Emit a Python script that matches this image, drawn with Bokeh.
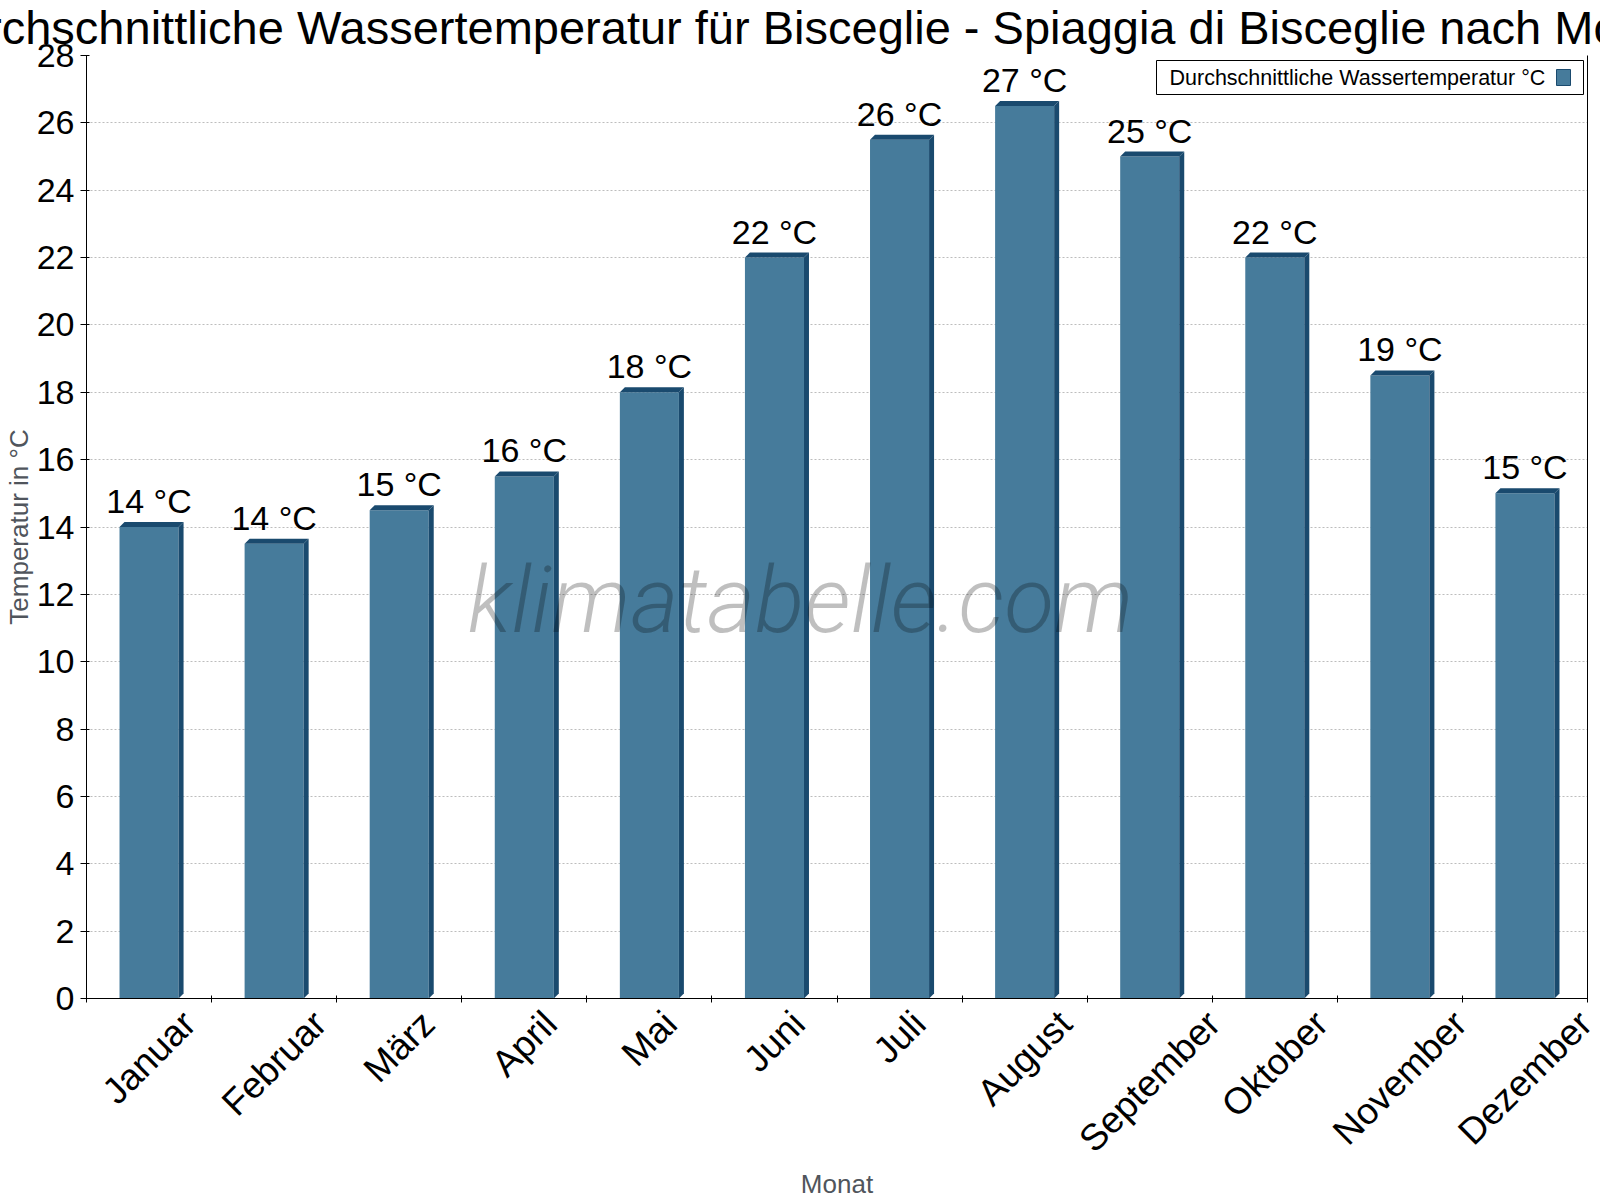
import math
from bokeh.plotting import figure
from bokeh.models import (Range1d, FixedTicker, LinearAxis, Label, LabelSet,
                          ColumnDataSource, BoxAnnotation)
from bokeh.core.properties import value
from bokeh.embed import file_html
from bokeh.resources import INLINE

# ---------------- data ----------------
months = ["Januar", "Februar", "März", "April", "Mai", "Juni", "Juli",
          "August", "September", "Oktober", "November", "Dezember"]
water_temp = [14.0, 13.5, 14.5, 15.5, 18.0, 22.0, 25.5, 26.5, 25.0, 22.0, 18.5, 15.0]
y_ticks = list(range(0, 29, 2))

title_text = "Durchschnittliche Wassertemperatur für Bisceglie - Spiaggia di Bisceglie nach Monat"
series_name = "Durchschnittliche Wassertemperatur °C"
x_title = "Monat"
y_title = "Temperatur in °C"
watermark_text = "klimatabelle.com"

# ---------------- style ----------------
FONT = "Liberation Sans"
FRONT = "#467b9b"
DARK = "#1a4a6e"
AXIS_GREY = "#50555c"
GRID = "#bdbdbd"

N = len(months)
Y_MAX = 28
FRAME_W, FRAME_H = 1501, 943
B_L, B_T, B_R, B_B = 84, 53, 15, 204
XPX = FRAME_W / N          # pixels per x unit
YPX = FRAME_H / Y_MAX      # pixels per y unit


def dx(px):   # canvas pixel -> data x
    return (px - B_L) / XPX


def dy(py):   # canvas pixel -> data y
    return Y_MAX - (py - B_T) / YPX


p = figure(frame_width=FRAME_W, frame_height=FRAME_H,
           x_range=Range1d(0, N), y_range=Range1d(0, Y_MAX),
           output_backend="svg", toolbar_location=None,
           min_border_left=B_L, min_border_top=B_T,
           min_border_right=B_R, min_border_bottom=B_B,
           background_fill_color="white", border_fill_color="white")
p.outline_line_color = None

# ---------------- title (centred on the whole canvas, overflowing both sides) ----------------
TITLE_SIZE = 47
TITLE_W = 1747            # approximate rendered width of the title text
TITLE_CENTER = 797
p.title.text = title_text
p.title.text_font = FONT
p.title.text_font_size = f"{TITLE_SIZE}px"
p.title.text_font_style = "normal"
p.title.text_color = "black"
p.title.align = "left"
p.title.vertical_align = "top"
p.title.standoff = 0
p.title.offset = (TITLE_CENTER - TITLE_W / 2) - B_L

# ---------------- x axis: boundary ticks + rotated labels centred on categories ----------------
XL_SIZE = 37
W = {"J": 500, "a": 556, "n": 556, "u": 556, "r": 333, "F": 611, "e": 556, "b": 556,
     "M": 833, "ä": 556, "z": 500, "A": 667, "p": 556, "i": 222, "l": 222, "N": 722,
     "o": 556, "v": 500, "m": 833, "D": 722, "S": 667, "t": 278, "O": 778, "k": 500,
     "g": 556, "s": 500, "c": 500, "h": 556, "f": 278, "d": 556, "ü": 556}
cx = [i + 0.5 for i in range(N)]
label_pos = []
for c, m in zip(cx, months):
    L = sum(W.get(ch, 556) for ch in m) / 1000 * XL_SIZE
    label_pos.append(round(c + 0.3535 * L / XPX, 6))

p.xaxis.ticker = FixedTicker(ticks=label_pos, minor_ticks=list(range(0, N + 1)))
p.xaxis.major_label_overrides = {pos: m for pos, m in zip(label_pos, months)}
p.xaxis.major_label_orientation = math.pi / 4
p.xaxis.major_label_text_font = FONT
p.xaxis.major_label_text_font_size = f"{XL_SIZE}px"
p.xaxis.major_label_text_color = "black"
p.xaxis.major_label_standoff = 15
p.xaxis.major_tick_in = 0
p.xaxis.major_tick_out = 0
p.xaxis.major_tick_line_color = None
p.xaxis.minor_tick_in = 3
p.xaxis.minor_tick_out = 4
p.xaxis.minor_tick_line_color = "black"
p.xaxis.axis_line_color = "black"
p.xaxis.axis_label = x_title
p.xaxis.axis_label_text_font = FONT
p.xaxis.axis_label_text_font_size = "26px"
p.xaxis.axis_label_text_font_style = "normal"
p.xaxis.axis_label_text_color = AXIS_GREY
p.xaxis.axis_label_standoff = -8

# ---------------- y axis ----------------
p.yaxis.ticker = FixedTicker(ticks=y_ticks)
p.yaxis.major_label_text_font = FONT
p.yaxis.major_label_text_font_size = "34px"
p.yaxis.major_label_text_color = "black"
p.yaxis.major_label_standoff = 6
p.yaxis.major_tick_in = 3
p.yaxis.major_tick_out = 6
p.yaxis.minor_tick_line_color = None
p.yaxis.axis_line_color = "black"
p.yaxis.major_tick_line_color = "black"
p.yaxis.axis_label = y_title
p.yaxis.axis_label_text_font = FONT
p.yaxis.axis_label_text_font_size = "26px"
p.yaxis.axis_label_text_font_style = "normal"
p.yaxis.axis_label_text_color = AXIS_GREY
p.yaxis.axis_label_standoff = 0

right_axis = LinearAxis(major_tick_in=0, major_tick_out=0, minor_tick_in=0,
                        minor_tick_out=0, major_label_standoff=0,
                        axis_line_color="black", ticker=FixedTicker(ticks=[]))
p.add_layout(right_axis, "right")

p.xgrid.grid_line_color = None
p.ygrid.ticker = FixedTicker(ticks=y_ticks)
p.ygrid.grid_line_color = GRID
p.ygrid.grid_line_dash = "2 2"
p.ygrid.grid_line_width = 1

# ---------------- bars (pseudo 3D) ----------------
BAR_W = 0.472
DEPTH_X = 5 / XPX
DEPTH_Y = 5 / YPX
half = BAR_W / 2

side_xs = [[c + half, c + half + DEPTH_X, c + half + DEPTH_X, c + half] for c in cx]
side_ys = [[0, DEPTH_Y, v + DEPTH_Y, v] for v in water_temp]
top_xs = [[c - half, c - half + DEPTH_X, c + half + DEPTH_X, c + half] for c in cx]
top_ys = [[v, v + DEPTH_Y, v + DEPTH_Y, v] for v in water_temp]

p.vbar(x=cx, top=water_temp, bottom=0, width=BAR_W, fill_color=FRONT, line_color=None)
p.patches(xs=side_xs, ys=side_ys, fill_color=DARK, line_color=None)
p.patches(xs=top_xs, ys=top_ys, fill_color=DARK, line_color=None)

# ---------------- value labels ----------------
val_src = ColumnDataSource(dict(x=cx, y=water_temp,
                                t=[f"{math.floor(v + 0.5)} °C" for v in water_temp]))
p.add_layout(LabelSet(x="x", y="y", text="t", source=val_src, y_offset=14,
                      text_align="center", text_baseline="alphabetic",
                      text_font=value(FONT), text_font_size="34px",
                      text_color="black"))

# ---------------- watermark ----------------
p.add_layout(Label(x=dx(798), y=dy(598), text=watermark_text,
                   text_align="center", text_baseline="middle",
                   text_font="Roboto Light, Roboto, sans-serif", text_font_style="italic",
                   text_font_size="92px", text_color="black", text_alpha=0.25))

# ---------------- legend (label first, swatch on the right) ----------------
p.add_layout(BoxAnnotation(left=dx(1154), right=dx(1581), top=dy(58), bottom=dy(92),
                           fill_color="white", fill_alpha=1.0,
                           line_color="black", line_width=1, line_alpha=1.0))
p.add_layout(Label(x=dx(1167), y=dy(75), text=series_name,
                   text_align="left", text_baseline="middle",
                   text_font=FONT, text_font_size="21.5px", text_color="black"))
p.add_layout(BoxAnnotation(left=dx(1554), right=dx(1568), top=dy(67), bottom=dy(83),
                           fill_color=FRONT, fill_alpha=1.0,
                           line_color=DARK, line_width=1, line_alpha=1.0))

open("out.html", "w").write(file_html(p, INLINE))
